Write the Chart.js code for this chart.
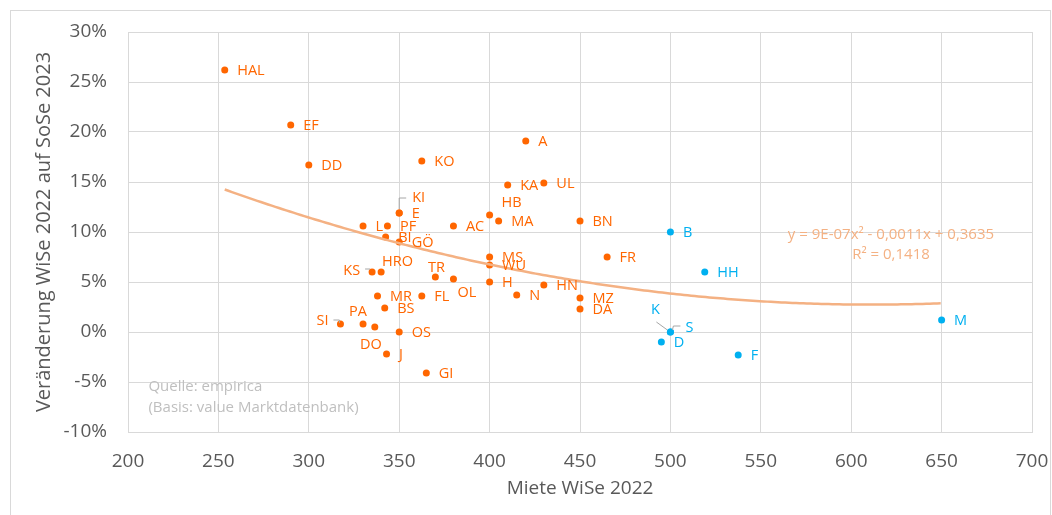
<!DOCTYPE html>
<html>
<head>
<meta charset="utf-8">
<script src="https://cdn.jsdelivr.net/npm/chart.js@4"></script>
<style>
  html, body { margin: 0; padding: 0; background: #fff; }
  #wrap { width: 1052px; height: 515px; position: relative; }
</style>
</head>
<body>
<div id="wrap"><canvas id="chart"></canvas></div>
<script>
// cities above the market (orange) and the big markets (blue)
const orangeNames  = ['HAL', 'EF', 'DD', 'KO', 'A', 'KA', 'UL', 'KI', 'E', 'HB', 'MA', 'BN', 'L', 'PF', 'AC', 'BI', 'GÖ', 'MS', 'FR', 'WU', 'KS', 'HRO', 'TR', 'OL', 'H', 'HN', 'MR', 'FL', 'N', 'MZ', 'BS', 'DA', 'SI', 'PA', 'DO', 'OS', 'J', 'GI'];
const orangeRent   = [253.5, 290, 300, 362.5, 420, 410, 430, 350, 350, 400, 405, 450, 330, 343.5, 380, 342.5, 350, 400, 465, 400, 335, 340, 370, 380, 400, 430, 338, 362.5, 415, 450, 342, 450, 317.5, 330, 336.5, 350, 343, 365];
const orangeChange = [0.262, 0.207, 0.167, 0.171, 0.191, 0.147, 0.149, 0.119, 0.119, 0.117, 0.111, 0.111, 0.106, 0.106, 0.106, 0.095, 0.090, 0.075, 0.075, 0.067, 0.060, 0.060, 0.055, 0.053, 0.050, 0.047, 0.036, 0.036, 0.037, 0.034, 0.024, 0.023, 0.008, 0.008, 0.005, 0.000, -0.022, -0.041];

const blueNames  = ['B', 'HH', 'K', 'S', 'D', 'F', 'M'];
const blueRent   = [500, 519, 500, 500, 495, 537.5, 650];
const blueChange = [0.100, 0.060, 0.000, 0.000, -0.010, -0.023, 0.012];

// polynomial trend as printed in the chart (2nd order)
const trendCoef  = [9e-7, -0.0011, 0.3635];
const trendRange = [253.5, 650];

const xTickValues = [200, 250, 300, 350, 400, 450, 500, 550, 600, 650, 700];
const yTickValues = [-0.10, -0.05, 0, 0.05, 0.10, 0.15, 0.20, 0.25, 0.30];

const ORANGE = '#FF6600';
const BLUE = '#00B0F0';
const TREND = '#F4B183';
const FONT = "'Open Sans', sans-serif";

const toPoints = (xs, ys) => xs.map((x, i) => ({ x: x, y: ys[i] }));

const trendPoints = [];
for (let x = trendRange[0]; x <= trendRange[1]; x += 2) {
  trendPoints.push({ x: x, y: trendCoef[0] * x * x + trendCoef[1] * x + trendCoef[2] });
}

// where each label sits relative to its dot
const labelPos = {
  KI:  { dx: 13, dy: -15, leader: [[0, -4], [0, -15], [7, -15]] },
  KS:  { dx: -12, dy: -1, align: 'right', leader: [[-7, -3], [-2, -3]] },
  SI:  { dx: -12, dy: -3, align: 'right', leader: [[-7, -4], [-1, -4], [-1, -1]] },
  K:   { dx: -15, dy: -22, align: 'center', leader: [[-14, -10], [-3, -2]] },
  S:   { dx: 15, dy: -4, leader: [[2, -2], [3, -6], [10, -6]] },
  HRO: { dx: 1, dy: -10 },
  TR:  { dx: 1, dy: -9, align: 'center' },
  OL:  { dx: 4, dy: 14 },
  PA:  { dx: -5, dy: -12, align: 'center' },
  DO:  { dx: -4, dy: 18, align: 'center' },
  HB:  { dx: 12, dy: -12 }
};

const pointLabels = {
  id: 'pointLabels',
  afterDatasetsDraw(chart) {
    const ctx = chart.ctx;
    ctx.save();
    ctx.font = '14.5px ' + FONT;
    ctx.textBaseline = 'middle';
    chart.data.datasets.forEach((ds, di) => {
      if (!ds.names) return;
      const meta = chart.getDatasetMeta(di);
      meta.data.forEach((el, i) => {
        const name = ds.names[i];
        const p = labelPos[name] || { dx: 12.5, dy: 1 };
        if (p.leader) {
          ctx.strokeStyle = '#A6A6A6';
          ctx.lineWidth = 1;
          ctx.beginPath();
          p.leader.forEach((pt, k) => {
            const fn = k === 0 ? 'moveTo' : 'lineTo';
            ctx[fn](el.x + pt[0], el.y + pt[1]);
          });
          ctx.stroke();
        }
        ctx.fillStyle = ds.backgroundColor;
        ctx.textAlign = p.align || 'left';
        ctx.fillText(name, el.x + p.dx, el.y + p.dy);
      });
    });

    // trend equation and source note
    const xs = chart.scales.x, ys = chart.scales.y;
    ctx.font = '15px ' + FONT;
    ctx.fillStyle = TREND;
    ctx.textAlign = 'center';
    ctx.fillText('y = 9E-07x² - 0,0011x + 0,3635', xs.getPixelForValue(622), ys.getPixelForValue(0.097));
    ctx.fillText('R² = 0,1418', xs.getPixelForValue(622), ys.getPixelForValue(0.077));

    ctx.font = '15px ' + FONT;
    ctx.fillStyle = '#BFBFBF';
    ctx.textAlign = 'left';
    ctx.fillText('Quelle: empirica', xs.getPixelForValue(211.3), ys.getPixelForValue(-0.055));
    ctx.fillText('(Basis: value Marktdatenbank)', xs.getPixelForValue(211.3), ys.getPixelForValue(-0.0755));
    ctx.restore();
  }
};

const frame = {
  id: 'frame',
  beforeDraw(chart) {
    const ctx = chart.ctx;
    ctx.save();
    ctx.fillStyle = '#fff';
    ctx.fillRect(0, 0, chart.width, chart.height);
    ctx.strokeStyle = '#D9D9D9';
    ctx.lineWidth = 1;
    ctx.strokeRect(10.5, 10.5, 1040, 520);
    ctx.restore();
  }
};

new Chart(document.getElementById('chart'), {
  type: 'scatter',
  data: {
    datasets: [
      {
        type: 'line',
        data: trendPoints,
        borderColor: TREND,
        borderWidth: 2.5,
        pointRadius: 0,
        tension: 0,
        fill: false
      },
      {
        names: orangeNames,
        data: toPoints(orangeRent, orangeChange),
        backgroundColor: ORANGE,
        borderWidth: 0,
        pointRadius: 3.5
      },
      {
        names: blueNames,
        data: toPoints(blueRent, blueChange),
        backgroundColor: BLUE,
        borderWidth: 0,
        pointRadius: 3.5
      }
    ]
  },
  options: {
    responsive: true,
    maintainAspectRatio: false,
    animation: false,
    events: [],
    layout: { padding: { top: 32, right: 20, bottom: 0, left: 0 } },
    plugins: {
      legend: { display: false },
      tooltip: { enabled: false }
    },
    scales: {
      x: {
        type: 'linear',
        min: 200,
        max: 700,
        afterBuildTicks: (scale) => { scale.ticks = xTickValues.map(v => ({ value: v })); },
        afterFit: (scale) => { scale.height = 83; scale.paddingLeft = 0; scale.paddingRight = 0; },
        grid: { color: '#D9D9D9', drawTicks: false },
        border: { color: '#D9D9D9' },
        ticks: { padding: 18, color: '#595959', font: { family: FONT, size: 19 } },
        title: {
          display: true,
          text: 'Miete WiSe 2022',
          color: '#595959',
          font: { family: FONT, size: 19 },
          padding: { top: 0, bottom: 15 }
        }
      },
      y: {
        type: 'linear',
        min: -0.1,
        max: 0.3,
        afterBuildTicks: (scale) => { scale.ticks = yTickValues.map(v => ({ value: v })); },
        afterFit: (scale) => { scale.width = 128; scale.paddingTop = 0; scale.paddingBottom = 0; },
        grid: { color: '#D9D9D9', drawTicks: false },
        border: { color: '#D9D9D9' },
        ticks: {
          padding: 21,
          color: '#595959',
          font: { family: FONT, size: 19 },
          callback: (v) => Math.round(v * 100) + '%'
        },
        title: {
          display: true,
          text: 'Veränderung WiSe 2022 auf SoSe 2023',
          color: '#595959',
          font: { family: FONT, size: 20 },
          padding: { top: 32, bottom: 0 }
        }
      }
    }
  },
  plugins: [frame, pointLabels]
});
</script>
</body>
</html>
